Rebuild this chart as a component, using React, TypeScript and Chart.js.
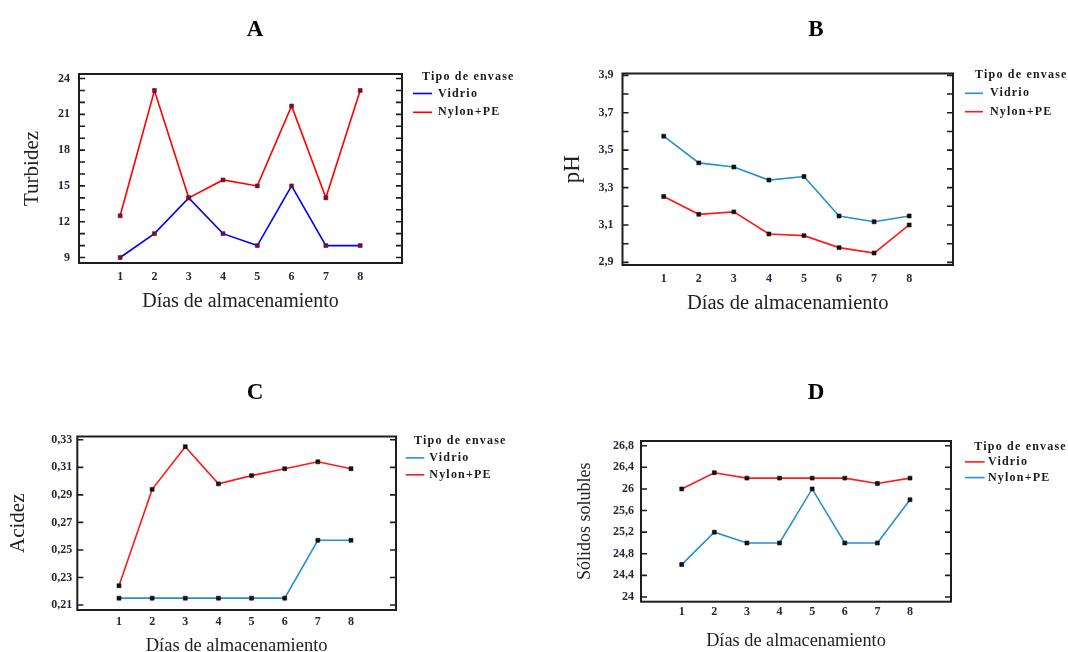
import React, { useEffect, useRef } from "react";
import { Chart, registerables } from "chart.js";

Chart.register(...registerables);
Chart.defaults.font.family = '"Liberation Serif", "Times New Roman", serif';

// ---------- DATA ----------
const days = [1, 2, 3, 4, 5, 6, 7, 8];

const turbVidrio = [9, 11, 14, 11, 10, 15, 10, 10];
const turbNylon = [12.5, 23, 14, 15.5, 15, 21.7, 14, 23];
const turbTicks = [9, 12, 15, 18, 21, 24];

const phVidrio = [3.575, 3.432, 3.41, 3.34, 3.359, 3.148, 3.117, 3.148];
const phNylon = [3.252, 3.157, 3.17, 3.052, 3.043, 2.979, 2.95, 3.1];
const phTicks = [2.9, 3.1, 3.3, 3.5, 3.7, 3.9];

const acidVidrio = [0.215, 0.215, 0.215, 0.215, 0.215, 0.215, 0.257, 0.257];
const acidNylon = [0.224, 0.294, 0.325, 0.298, 0.304, 0.309, 0.314, 0.309];
const acidTicks = [0.21, 0.23, 0.25, 0.27, 0.29, 0.31, 0.33];

const solVidrio = [26.0, 26.3, 26.2, 26.2, 26.2, 26.2, 26.1, 26.2];
const solNylon = [24.6, 25.2, 25.0, 25.0, 26.0, 25.0, 25.0, 25.8];
const solTicks = [24, 24.4, 24.8, 25.2, 25.6, 26, 26.4, 26.8];

const seriesLabels = ["Vidrio", "Nylon+PE"];
const legendTitle = "Tipo de envase";
const xTitle = "Días de almacenamiento";

// ---------- LAYOUT / STYLE ----------
const W = 1068;
const H = 652;

type Panel = {
  key: string;
  title: string;
  titleX: number;
  titleY: number;
  vidrio: number[];
  nylon: number[];
  vidrioColor: string;
  nylonColor: string;
  marker: string;
  yTicks: number[];
  yMin: number;
  yMax: number;
  minorStep: number;
  xMin: number;
  xMax: number;
  box: { l: number; t: number; r: number; b: number };
  yLabel: string;
  yLabelSize: number;
  yLabelX: number;
  xLabelSize: number;
  xLabelY: number;
  yTickPad: number;
  xTickPad: number;
  legend: { x: number; y: number; l0: number; l1: number; tx: number; rows: number[] };
};

const panels: Panel[] = [
  {
    key: "A", title: "A", titleX: 255, titleY: 30,
    vidrio: turbVidrio, nylon: turbNylon,
    vidrioColor: "#0000ff", nylonColor: "#ff0000", marker: "#6e1038",
    yTicks: turbTicks, yMin: 8.54, yMax: 24.38, minorStep: 1,
    xMin: -0.2, xMax: 9.22,
    box: { l: 79, t: 74, r: 402, b: 263 },
    yLabel: "Turbidez", yLabelSize: 21, yLabelX: 32,
    xLabelSize: 20, xLabelY: 302, yTickPad: 9, xTickPad: 7,
    legend: { x: 422, y: 77, l0: 413, l1: 432, tx: 438, rows: [93.5, 112.3] },
  },
  {
    key: "B", title: "B", titleX: 816, titleY: 30,
    vidrio: phVidrio, nylon: phNylon,
    vidrioColor: "#2390d2", nylonColor: "#ff1a1a", marker: "#111111",
    yTicks: phTicks, yMin: 2.886, yMax: 3.91, minorStep: 0.1,
    xMin: -0.176, xMax: 9.25,
    box: { l: 622.5, t: 73.5, r: 953, b: 265 },
    yLabel: "pH", yLabelSize: 23, yLabelX: 573,
    xLabelSize: 20.5, xLabelY: 304, yTickPad: 9, xTickPad: 7,
    legend: { x: 975, y: 75, l0: 965, l1: 983, tx: 990, rows: [93.3, 111.7] },
  },
  {
    key: "C", title: "C", titleX: 255, titleY: 393,
    vidrio: acidVidrio, nylon: acidNylon,
    vidrioColor: "#2390d2", nylonColor: "#ff1a1a", marker: "#111111",
    yTicks: acidTicks, yMin: 0.2064, yMax: 0.3324, minorStep: 0.02,
    xMin: -0.258, xMax: 9.358,
    box: { l: 77.3, t: 436.5, r: 396, b: 610 },
    yLabel: "Acidez", yLabelSize: 21, yLabelX: 18.6,
    xLabelSize: 18.5, xLabelY: 646, yTickPad: 5, xTickPad: 4.6,
    legend: { x: 414, y: 441, l0: 405.7, l1: 424.3, tx: 429.3, rows: [457.9, 474.8] },
  },
  {
    key: "D", title: "D", titleX: 816, titleY: 393,
    vidrio: solVidrio, nylon: solNylon,
    vidrioColor: "#ff1a1a", nylonColor: "#2390d2", marker: "#111111",
    yTicks: solTicks, yMin: 23.913, yMax: 26.887, minorStep: 0.4,
    xMin: -0.248, xMax: 9.257,
    box: { l: 641, t: 441, r: 951, b: 601.7 },
    yLabel: "Sólidos solubles", yLabelSize: 18, yLabelX: 585,
    xLabelSize: 18.3, xLabelY: 641, yTickPad: 7, xTickPad: 3,
    legend: { x: 974.3, y: 446.8, l0: 965, l1: 984.6, tx: 988, rows: [461.9, 477.6] },
  },
];

const fmt = (v: number) => String(Number(v.toFixed(3))).replace(".", ",");

function framePlugin(p: Panel) {
  return {
    id: "frame" + p.key,
    afterDraw(chart: any) {
      const { ctx, chartArea } = chart;
      const { left, top, right, bottom } = chartArea;
      const ys = chart.scales.y;
      ctx.save();
      // frame
      ctx.strokeStyle = "#1e1e1e";
      ctx.lineWidth = 2;
      ctx.strokeRect(left, top, right - left, bottom - top);
      // inner tick marks on left and right
      ctx.lineWidth = 1.6;
      const first = p.yTicks[0];
      const last = p.yTicks[p.yTicks.length - 1];
      const n = Math.round((last - first) / p.minorStep);
      ctx.beginPath();
      for (let k = 0; k <= n; k++) {
        const py = ys.getPixelForValue(first + k * p.minorStep);
        ctx.moveTo(left, py);
        ctx.lineTo(left + 6, py);
        ctx.moveTo(right - 6, py);
        ctx.lineTo(right, py);
      }
      ctx.stroke();
      // legend
      ctx.textAlign = "left";
      ctx.textBaseline = "middle";
      ctx.fillStyle = "#1a1a1a";
      ctx.font = 'bold 12px "Liberation Serif"';
      try { (ctx as any).letterSpacing = "1.2px"; } catch (e) {}
      ctx.fillText(legendTitle, p.legend.x, p.legend.y);
      chart.data.datasets.forEach((ds: any, i: number) => {
        const yy = p.legend.rows[i];
        ctx.strokeStyle = ds.borderColor;
        ctx.lineWidth = 1.6;
        ctx.beginPath();
        ctx.moveTo(p.legend.l0, yy);
        ctx.lineTo(p.legend.l1, yy);
        ctx.stroke();
        ctx.fillText(ds.label, p.legend.tx, yy);
      });
      // panel letter
      try { (ctx as any).letterSpacing = "0px"; } catch (e) {}
      ctx.font = 'bold 23px "Liberation Serif"';
      ctx.textAlign = "center";
      ctx.fillStyle = "#000";
      ctx.fillText(p.title, p.titleX, p.titleY);
      ctx.restore();
    },
  };
}

function makeConfig(p: Panel): any {
  const mk = (vals: number[], label: string, color: string) => ({
    label,
    data: days.map((d, i) => ({ x: d, y: vals[i] })),
    borderColor: color,
    backgroundColor: color,
    borderWidth: 1.6,
    tension: 0,
    fill: false,
    pointStyle: "rect",
    pointRadius: 2.8,
    pointBorderWidth: 0.6,
    pointBackgroundColor: p.marker,
    pointBorderColor: p.marker,
  });
  const yLh = p.yLabelSize * 1.2;
  const xLh = p.xLabelSize * 1.2;
  return {
    type: "line",
    data: {
      datasets: [
        mk(p.vidrio, seriesLabels[0], p.vidrioColor),
        mk(p.nylon, seriesLabels[1], p.nylonColor),
      ],
    },
    options: {
      animation: false,
      responsive: false,
      maintainAspectRatio: false,
      layout: { padding: { left: 0, top: p.box.t, right: W - p.box.r, bottom: 0 } },
      plugins: { legend: { display: false }, tooltip: { enabled: false }, title: { display: false } },
      scales: {
        x: {
          type: "linear",
          min: p.xMin,
          max: p.xMax,
          afterBuildTicks: (s: any) => { s.ticks = days.map((v) => ({ value: v })); },
          afterFit: (s: any) => { s.height = H - p.box.b; },
          grid: { display: false, drawTicks: false },
          border: { display: false },
          ticks: {
            padding: p.xTickPad,
            color: "#2b2535",
            font: { size: 12, weight: "bold" },
            callback: (v: number) => String(v),
          },
          title: {
            display: true,
            text: xTitle,
            color: "#222",
            font: { size: p.xLabelSize },
            padding: { top: 0, bottom: H - xLh / 2 - p.xLabelY },
          },
        },
        y: {
          type: "linear",
          min: p.yMin,
          max: p.yMax,
          afterBuildTicks: (s: any) => { s.ticks = p.yTicks.map((v) => ({ value: v })); },
          afterFit: (s: any) => { s.width = p.box.l; },
          grid: { display: false, drawTicks: false },
          border: { display: false },
          ticks: {
            padding: p.yTickPad,
            color: "#2b2535",
            font: { size: 12, weight: "bold" },
            callback: (v: number) => fmt(v),
          },
          title: {
            display: true,
            text: p.yLabel,
            color: "#222",
            font: { size: p.yLabelSize },
            padding: { top: p.yLabelX - yLh / 2, bottom: 0 },
          },
        },
      },
    },
    plugins: [framePlugin(p)],
  };
}

function PanelChart({ p }: { p: Panel }) {
  const ref = useRef<HTMLCanvasElement | null>(null);
  useEffect(() => {
    if (!ref.current) return;
    const chart = new Chart(ref.current, makeConfig(p));
    return () => chart.destroy();
  }, [p]);
  return (
    <canvas
      ref={ref}
      width={W}
      height={H}
      style={{ position: "absolute", left: 0, top: 0, width: W, height: H }}
    />
  );
}

export default function App() {
  return (
    <div style={{ position: "absolute", left: 0, top: 0, width: W, height: H, background: "#fff", overflow: "hidden" }}>
      {panels.map((p) => (
        <PanelChart key={p.key} p={p} />
      ))}
    </div>
  );
}
